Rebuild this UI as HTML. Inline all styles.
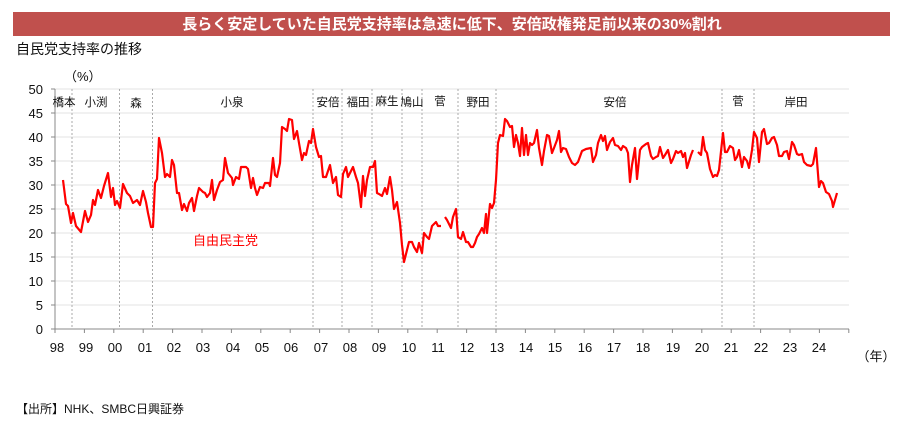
<!DOCTYPE html>
<html><head><meta charset="utf-8"><style>
body{margin:0;background:#fff;width:900px;height:426px;overflow:hidden}
svg{display:block;font-family:"Liberation Sans","Noto Sans CJK JP",sans-serif}
</style></head><body>
<svg width="900" height="426" viewBox="0 0 900 426" xmlns="http://www.w3.org/2000/svg">
<rect x="13" y="12" width="877" height="24" fill="#c0504d"/>
<text x="452" y="29" fill="#fff" font-size="15" font-weight="bold" text-anchor="middle">長らく安定していた自民党支持率は急速に低下、安倍政権発足前以来の30%割れ</text>
<text x="16" y="54" font-size="14" fill="#111">自民党支持率の推移</text>
<text x="64" y="81" font-size="13" fill="#111">（%）</text>
<g stroke="#e3e3e3" stroke-width="1">
<line x1="55" x2="849" y1="89" y2="89"/><line x1="55" x2="849" y1="113" y2="113"/><line x1="55" x2="849" y1="137" y2="137"/><line x1="55" x2="849" y1="161" y2="161"/><line x1="55" x2="849" y1="185" y2="185"/><line x1="55" x2="849" y1="209" y2="209"/><line x1="55" x2="849" y1="233" y2="233"/><line x1="55" x2="849" y1="257" y2="257"/><line x1="55" x2="849" y1="281" y2="281"/><line x1="55" x2="849" y1="305" y2="305"/>
</g>
<g stroke="#aaa" stroke-width="1" stroke-dasharray="2,2">
<line x1="72" x2="72" y1="89" y2="329"/><line x1="119.5" x2="119.5" y1="89" y2="329"/><line x1="152.5" x2="152.5" y1="89" y2="329"/><line x1="313" x2="313" y1="89" y2="329"/><line x1="342" x2="342" y1="89" y2="329"/><line x1="372" x2="372" y1="89" y2="329"/><line x1="402" x2="402" y1="89" y2="329"/><line x1="422" x2="422" y1="89" y2="329"/><line x1="458" x2="458" y1="89" y2="329"/><line x1="496" x2="496" y1="89" y2="329"/><line x1="722" x2="722" y1="89" y2="329"/><line x1="754" x2="754" y1="89" y2="329"/>
</g>
<g stroke="#888" stroke-width="1">
<line x1="55" x2="55" y1="89" y2="329"/><line x1="55" x2="849" y1="329" y2="329"/>
<line x1="51" x2="55" y1="89" y2="89"/><line x1="51" x2="55" y1="113" y2="113"/><line x1="51" x2="55" y1="137" y2="137"/><line x1="51" x2="55" y1="161" y2="161"/><line x1="51" x2="55" y1="185" y2="185"/><line x1="51" x2="55" y1="209" y2="209"/><line x1="51" x2="55" y1="233" y2="233"/><line x1="51" x2="55" y1="257" y2="257"/><line x1="51" x2="55" y1="281" y2="281"/><line x1="51" x2="55" y1="305" y2="305"/><line x1="51" x2="55" y1="329" y2="329"/>
<path d="M55 329v4M84.4 329v4M113.8 329v4M143.2 329v4M172.6 329v4M202 329v4M231.4 329v4M260.8 329v4M290.2 329v4M319.6 329v4M349 329v4M378.4 329v4M407.8 329v4M437.2 329v4M466.6 329v4M496 329v4M525.4 329v4M554.8 329v4M584.2 329v4M613.6 329v4M643 329v4M672.4 329v4M701.8 329v4M731.2 329v4M760.6 329v4M790 329v4M819.4 329v4M848.8 329v4"/>
</g>
<g font-size="13" fill="#111" text-anchor="end">
<text x="43" y="94">50</text><text x="43" y="118">45</text><text x="43" y="142">40</text><text x="43" y="166">35</text><text x="43" y="190">30</text><text x="43" y="214">25</text><text x="43" y="238">20</text><text x="43" y="262">15</text><text x="43" y="286">10</text><text x="43" y="310">5</text><text x="43" y="334">0</text>
</g>
<g font-size="13" fill="#111" text-anchor="middle">
<text x="57" y="352">98</text><text x="86" y="352">99</text><text x="115" y="352">00</text><text x="145" y="352">01</text><text x="174" y="352">02</text><text x="203" y="352">03</text><text x="233" y="352">04</text><text x="262" y="352">05</text><text x="291" y="352">06</text><text x="321" y="352">07</text><text x="350" y="352">08</text><text x="379" y="352">09</text><text x="409" y="352">10</text><text x="438" y="352">11</text><text x="467" y="352">12</text><text x="497" y="352">13</text><text x="526" y="352">14</text><text x="555" y="352">15</text><text x="585" y="352">16</text><text x="614" y="352">17</text><text x="643" y="352">18</text><text x="673" y="352">19</text><text x="702" y="352">20</text><text x="731" y="352">21</text><text x="761" y="352">22</text><text x="790" y="352">23</text><text x="819" y="352">24</text>
<text x="876" y="361">（年）</text>
</g>
<g font-size="11.5" fill="#111" text-anchor="middle">
<text x="64" y="106">橋本</text><text x="96" y="106">小渕</text><text x="136" y="107">森</text><text x="232" y="106">小泉</text><text x="328" y="106">安倍</text><text x="358" y="106">福田</text><text x="387" y="105">麻生</text><text x="412" y="106">鳩山</text><text x="440" y="105">菅</text><text x="478" y="106">野田</text><text x="615" y="106">安倍</text><text x="738" y="105">菅</text><text x="796" y="106">岸田</text>
</g>
<text x="193" y="245" font-size="13" fill="#ff0000">自由民主党</text>
<g fill="none" stroke="#ff0000" stroke-width="2.2" stroke-linejoin="round">
<polyline points="63,180 66,204 68,206 71,223 73,213 76,226 81,232 85,211 88,222 91,215 93,200 95,205 98,190 101,198 104,186 108,173 111,197 113,188 115,205 117,201 120,208 123,184 127,193 130,196 133,203 137,200 140,205 143,191 146,202 148,213 151,227 153,227 155,183 157,179 159,138 162,153 165,177 167,174 170,177 172,160 174,165 177,193 179,193 182,210 184,204 187,211 189,203 192,198 194,211 197,196 199,188 203,192 205,193 207,197 210,193 212,180 214,200 217,190 220,182 223,180 225,158 228,173 232,178 233,185 236,177 239,179 241,167 246,167 248,169 251,188 253,178 255,188 257,195 260,187 263,188 265,183 269,183 270,186 273,158 275,175 277,177 280,163 282,127 285,129 287,131 289,119 292,120 294,139 297,131 299,143 302,160 304,153 306,155 309,141 311,143 313,129 316,147 319,157 321,156 323,177 326,177 330,165 333,183 336,177 338,195 341,197 343,174 346,167 348,177 353,167 356,177 358,183 361,207 363,176 365,196 367,180 370,167 373,167 375,161 377,193 379,194 382,196 385,188 387,194 390,177 392,190 394,209 397,202 400,223 402,245 404,262 407,250 409,242 412,242 414,247 417,252 419,243 422,253 424,233 427,237 429,239 432,226 436,222 438,226 441,226"/>
<polyline points="445,217 447,220 451,228 453,217 456,209 458,237 461,239 463,232 466,242 468,242 471,247 473,247 475,243 477,237 479,234 482,228 484,233 486,214 487,233 490,204 492,208 494,203 496,180 498,143 500,135 503,136 505,119 507,121 510,127 512,126 514,147 516,135 518,143 520,156 522,128 524,155 526,135 528,155 530,143 532,145 534,143 537,130 539,148 542,165 544,151 547,135 549,136 552,153 554,148 557,140 559,131 561,152 563,148 566,149 569,157 572,163 575,165 578,162 582,151 586,149 591,148 593,162 596,155 598,143 601,135 603,141 605,136 607,150 610,142 613,138 615,145 618,146 621,150 623,146 626,148 628,153 630,182 632,165 635,148 637,179 640,150 642,147 646,144 648,143 651,156 653,159 656,157 658,156 660,147 663,158 665,155 668,150 671,163 673,159 676,151 678,153 681,151 683,157 685,153 687,168 691,155 693,150"/>
<polyline points="698,152 701,155 703,137 705,150 707,153 710,169 713,177 715,175 717,176 719,170 723,133 725,152 727,152 730,146 733,148 735,160 737,157 739,150 742,167 744,157 747,161 749,168 752,150 754,132 757,138 759,162 762,132 764,129 767,144 769,143 772,138 774,137 777,145 779,156 782,156 784,152 787,151 789,159 792,142 794,145 797,154 799,155 802,154 804,162 807,165 811,166 813,164 816,148 819,187 821,181 823,183 826,192 829,194 832,201 833,207 837,193"/>
</g>
<text x="16" y="413" font-size="12" fill="#111">【出所】NHK、SMBC日興証券</text>
</svg>
</body></html>
